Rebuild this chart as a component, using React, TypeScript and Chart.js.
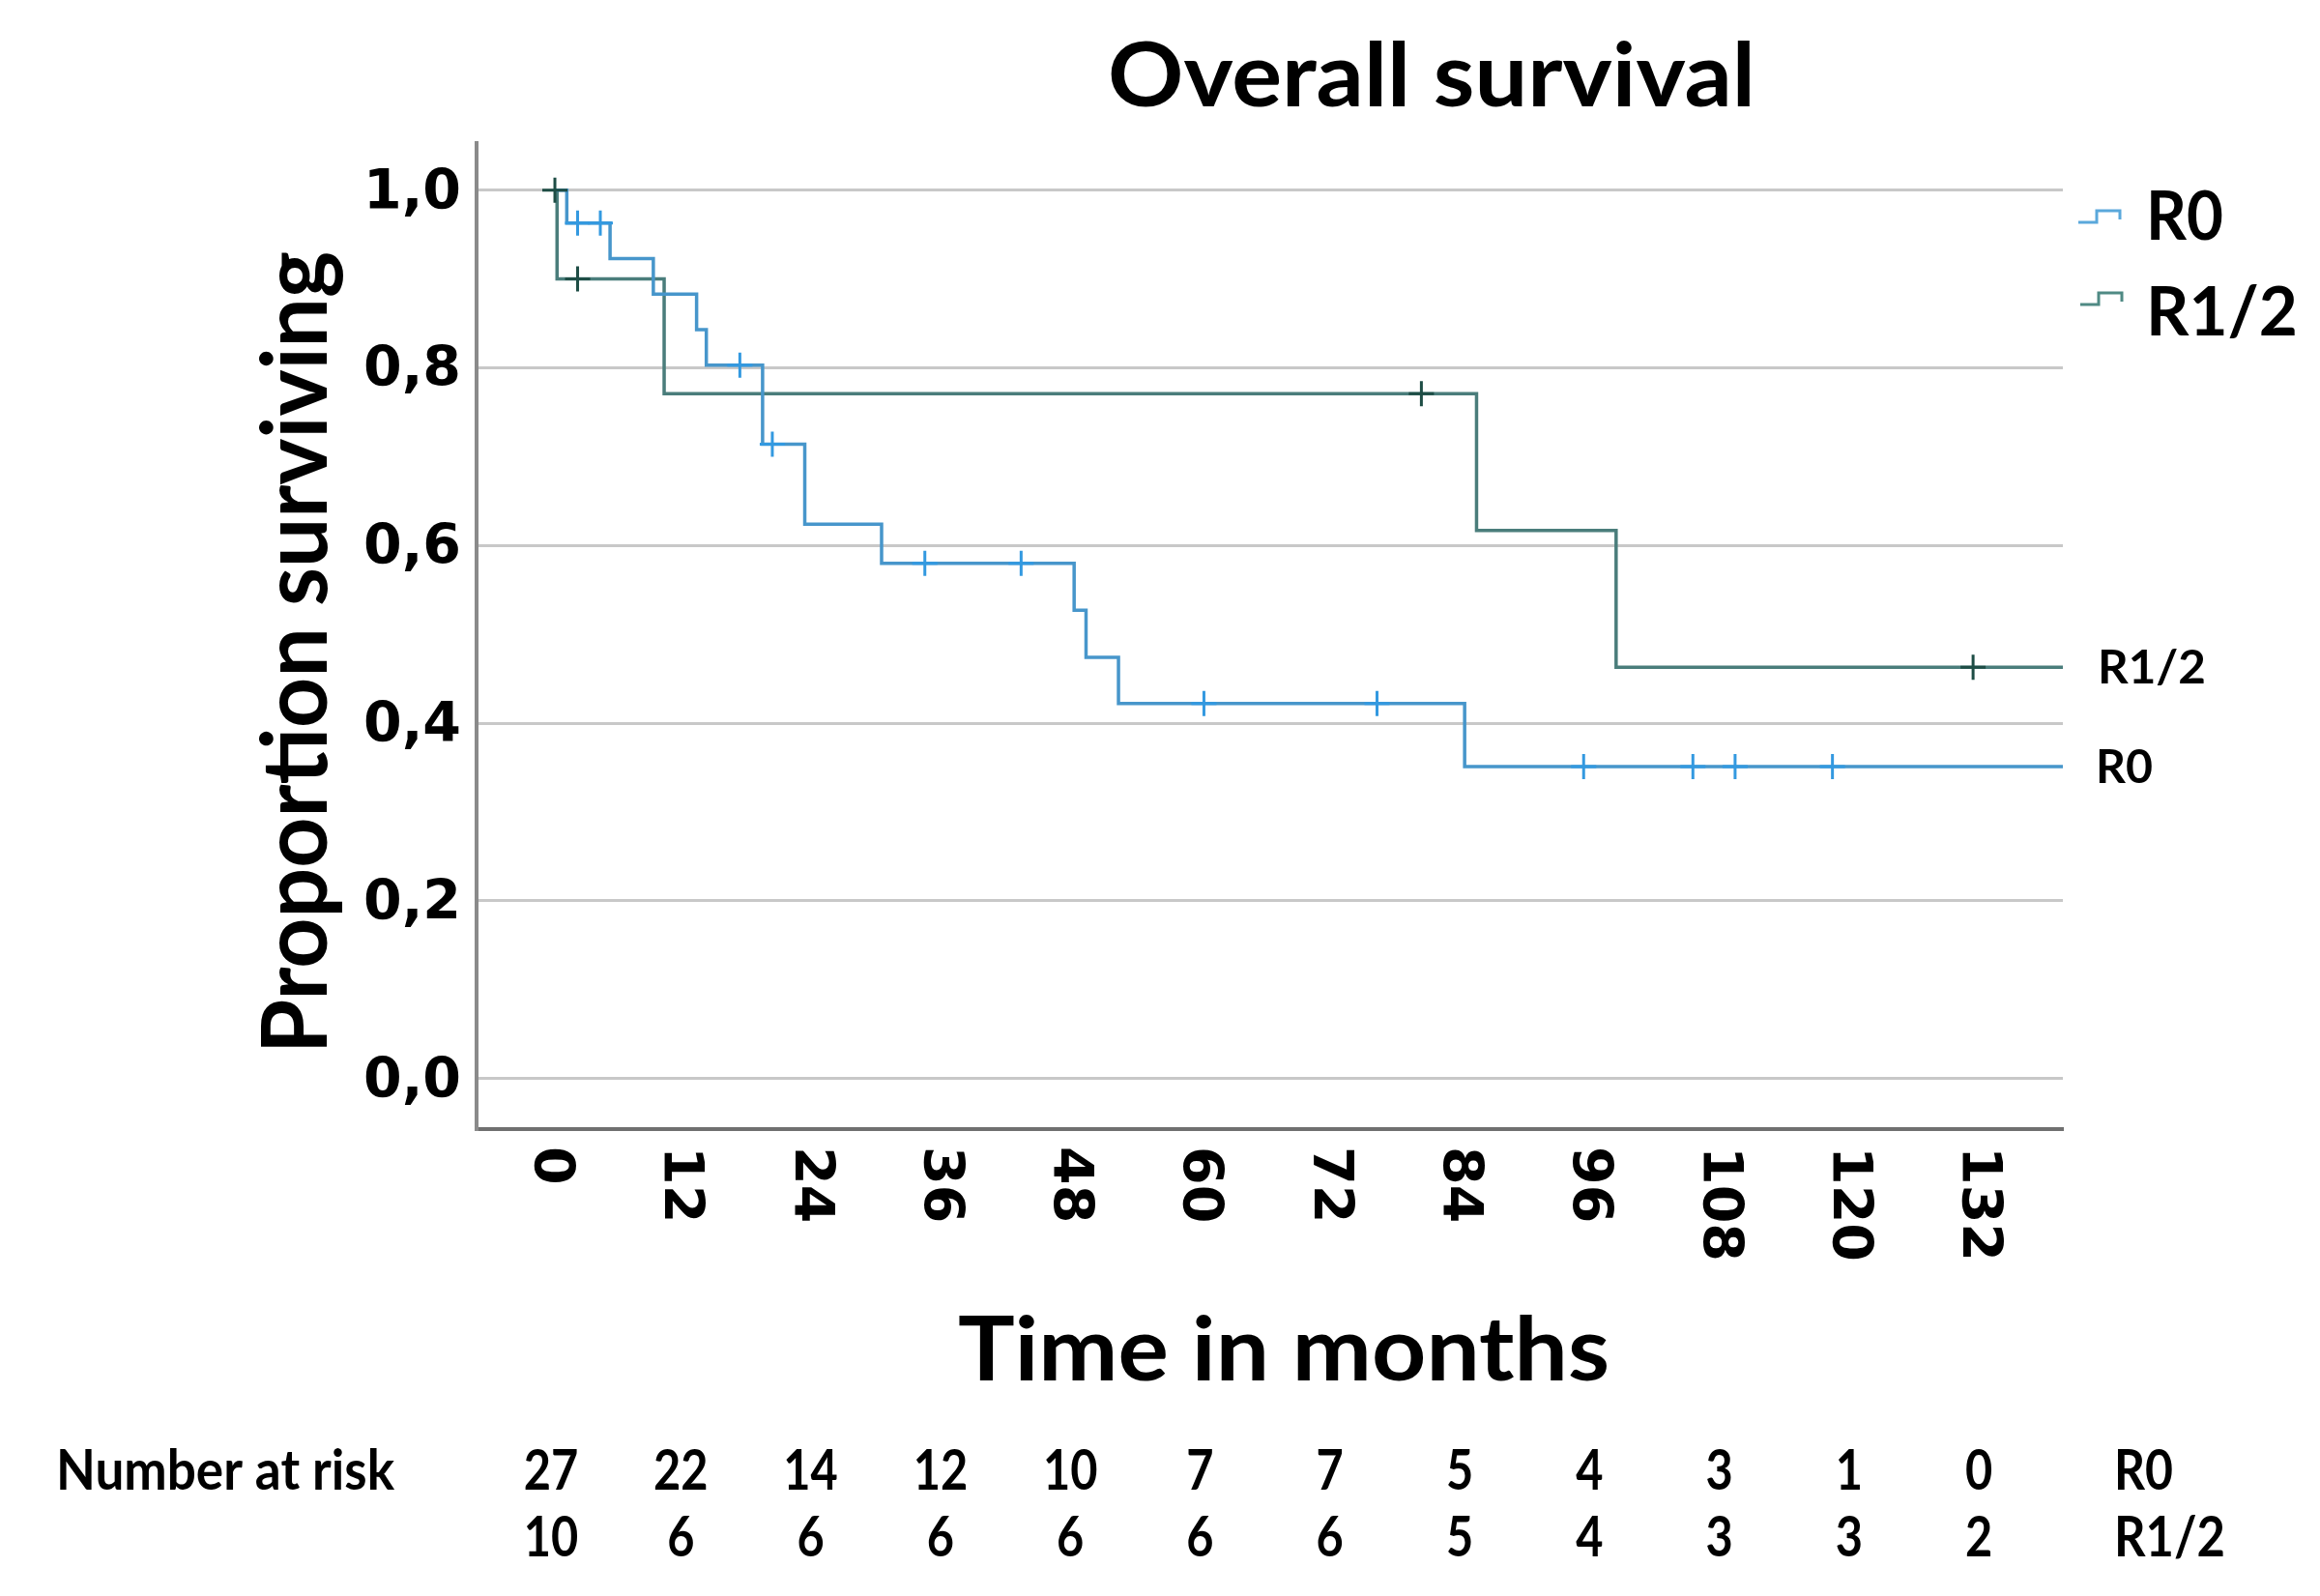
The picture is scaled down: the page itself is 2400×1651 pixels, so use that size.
import React, { useEffect, useRef } from 'react';
import { Chart, registerables } from 'chart.js';

Chart.register(...registerables);

// ---------------- data ----------------
const X_TICKS = [0, 12, 24, 36, 48, 60, 72, 84, 96, 108, 120, 132];
const Y_TICKS = [0, 0.2, 0.4, 0.6, 0.8, 1.0];
const Y_TICK_LABELS = ['0,0', '0,2', '0,4', '0,6', '0,8', '1,0'];

const R0_TIMES = [0, 1.1, 5.1, 9.1, 13.1, 14.0, 19.2, 23.1, 30.2, 48.0, 49.1, 52.1, 84.1, 139.4];
const R0_SURV = [1.0, 0.963, 0.923, 0.883, 0.843, 0.803, 0.714, 0.624, 0.58, 0.527, 0.474, 0.422, 0.351, 0.351];
const R0_CENSOR_TIMES = [2.1, 4.2, 17.1, 20.1, 34.2, 43.1, 60.0, 76.0, 95.1, 105.2, 109.1, 118.1];

const R12_TIMES = [0, 0.2, 10.1, 85.2, 98.1, 139.4];
const R12_SURV = [1.0, 0.9, 0.771, 0.617, 0.463, 0.463];
const R12_CENSOR_TIMES = [0, 2.1, 80.1, 131.1];

const RISK_R0 = [27, 22, 14, 12, 10, 7, 7, 5, 4, 3, 1, 0];
const RISK_R12 = [10, 6, 6, 6, 6, 6, 6, 5, 4, 3, 3, 2];

const SERIES_NAMES = ['R0', 'R1/2'];
const TITLE = 'Overall survival';
const X_TITLE = 'Time in months';
const Y_TITLE = 'Proportion surviving';
const RISK_TITLE = 'Number at risk';

// ---------------- styles ----------------
const R0_LINE = '#4796cb';
const R12_LINE = '#4a7d7b';
const R0_CENSOR = '#3399e0';
const R12_CENSOR = '#1e4d45';
const SANS = 'Lato, "Open Sans", sans-serif';
const TICKFONT = '"DejaVu Sans", Verdana, sans-serif';

function survivalAt(times: number[], surv: number[], t: number): number {
  let v = surv[0];
  for (let i = 0; i < times.length; i++) {
    if (times[i] <= t) v = surv[i];
  }
  return v;
}

function drawText(
  ctx: CanvasRenderingContext2D,
  text: string,
  x: number,
  y: number,
  font: string,
  align: CanvasTextAlign,
  targetW: number | null,
  rotation = 0,
  sxFixed = 1
) {
  ctx.save();
  ctx.font = font;
  ctx.fillStyle = '#000';
  const w = ctx.measureText(text).width;
  const sx = targetW ? targetW / w : sxFixed;
  ctx.translate(x, y);
  ctx.rotate(rotation);
  ctx.scale(sx, 1);
  ctx.textAlign = align;
  ctx.textBaseline = 'alphabetic';
  ctx.fillText(text, 0, 0);
  ctx.restore();
}

const axisLabelPlugin = {
  id: 'kmAxisLabels',
  afterDraw(chart: any) {
    const ctx: CanvasRenderingContext2D = chart.ctx;
    const xs = chart.scales.x;
    const ys = chart.scales.y;
    const area = chart.chartArea;

    // Title
    drawText(ctx, TITLE, 1481, 110, `bold 91px ${SANS}`, 'center', 670);

    // Y tick labels
    Y_TICKS.forEach((v, i) => {
      const py = ys.getPixelForValue(v);
      drawText(ctx, Y_TICK_LABELS[i], area.left - 16, py + 19, `bold 57px ${TICKFONT}`, 'right', null);
    });

    // X tick labels (rotated clockwise, glyphs centred on tick)
    X_TICKS.forEach((v) => {
      const px = xs.getPixelForValue(v);
      drawText(ctx, String(v), px - 21, area.bottom + 18, `bold 57px ${TICKFONT}`, 'left', null, Math.PI / 2);
    });
  },
};

const textPlugin = {
  id: 'kmText',
  afterDraw(chart: any) {
    const ctx: CanvasRenderingContext2D = chart.ctx;
    const xs = chart.scales.x;
    const ys = chart.scales.y;

    // Y axis title
    drawText(ctx, Y_TITLE, 338, 675, `bold 94px ${SANS}`, 'center', 830, -Math.PI / 2);

    // X axis title
    drawText(ctx, X_TITLE, 1328, 1428, `bold 91px ${SANS}`, 'center', 674);

    // Number at risk table
    const row1 = 1541;
    const row2 = 1610;
    drawText(ctx, RISK_TITLE, 58, row1, `bold 58px ${SANS}`, 'left', 350);
    X_TICKS.forEach((t, i) => {
      const px = xs.getPixelForValue(t) - 4;
      drawText(ctx, String(RISK_R0[i]), px, row1, `bold 58px ${SANS}`, 'center', null, 0, 0.84);
      drawText(ctx, String(RISK_R12[i]), px, row2, `bold 58px ${SANS}`, 'center', null, 0, 0.84);
    });
    drawText(ctx, SERIES_NAMES[0], 2187, row1, `bold 58px ${SANS}`, 'left', 61);
    drawText(ctx, SERIES_NAMES[1], 2187, row2, `bold 58px ${SANS}`, 'left', 115);

    // Legend
    const drawIcon = (x: number, yLow: number, yHigh: number, color: string) => {
      ctx.save();
      ctx.strokeStyle = color;
      ctx.lineWidth = 3;
      ctx.beginPath();
      ctx.moveTo(x, yLow);
      ctx.lineTo(x + 19, yLow);
      ctx.lineTo(x + 19, yHigh);
      ctx.lineTo(x + 43, yHigh);
      ctx.lineTo(x + 43, yHigh + 9);
      ctx.stroke();
      ctx.restore();
    };
    drawIcon(2150, 230, 218, '#5aa8db');
    drawIcon(2152, 315, 303, '#4f8a84');
    drawText(ctx, SERIES_NAMES[0], 2220, 248, `bold 70px ${SANS}`, 'left', 80);
    drawText(ctx, SERIES_NAMES[1], 2220, 347, `bold 70px ${SANS}`, 'left', 157);

    // End-of-curve labels
    const yR12 = ys.getPixelForValue(R12_SURV[R12_SURV.length - 1]);
    const yR0 = ys.getPixelForValue(R0_SURV[R0_SURV.length - 1]);
    drawText(ctx, SERIES_NAMES[1], 2170, yR12 + 17, `bold 48px ${SANS}`, 'left', 112);
    drawText(ctx, SERIES_NAMES[0], 2168, yR0 + 17, `bold 48px ${SANS}`, 'left', 59);
  },
};

export default function App() {
  const canvasRef = useRef<HTMLCanvasElement | null>(null);

  useEffect(() => {
    document.body.style.margin = '0';
    const canvas = canvasRef.current;
    if (!canvas) return;

    const toPoints = (times: number[], surv: number[]) =>
      times.map((t, i) => ({ x: t, y: surv[i] }));
    const censorPoints = (ct: number[], times: number[], surv: number[]) =>
      ct.map((t) => ({ x: t, y: survivalAt(times, surv, t) }));

    const chart = new Chart(canvas, {
      type: 'line',
      data: {
        datasets: [
          {
            label: SERIES_NAMES[1],
            data: toPoints(R12_TIMES, R12_SURV),
            borderColor: R12_LINE,
            borderWidth: 3.5,
            stepped: 'before',
            pointRadius: 0,
            fill: false,
            order: 2,
          },
          {
            label: SERIES_NAMES[0],
            data: toPoints(R0_TIMES, R0_SURV),
            borderColor: R0_LINE,
            borderWidth: 3.5,
            stepped: 'before',
            pointRadius: 0,
            fill: false,
            order: 1,
          },
          {
            type: 'scatter',
            label: 'R0 censored',
            data: censorPoints(R0_CENSOR_TIMES, R0_TIMES, R0_SURV),
            pointStyle: 'cross',
            pointRadius: 13,
            pointBorderWidth: 3,
            borderColor: R0_CENSOR,
            backgroundColor: R0_CENSOR,
            showLine: false,
            order: 0,
          } as any,
          {
            type: 'scatter',
            label: 'R1/2 censored',
            data: censorPoints(R12_CENSOR_TIMES, R12_TIMES, R12_SURV),
            pointStyle: 'cross',
            pointRadius: 13,
            pointBorderWidth: 3,
            borderColor: R12_CENSOR,
            backgroundColor: R12_CENSOR,
            showLine: false,
            order: 0,
          } as any,
        ],
      },
      options: {
        animation: false,
        responsive: false,
        devicePixelRatio: 1,
        layout: { padding: { left: 493, right: 266, top: 148, bottom: 483 } },
        plugins: {
          legend: { display: false },
          tooltip: { enabled: false },
          title: { display: false },
        },
        scales: {
          x: {
            type: 'linear',
            min: -7.24,
            max: 139.4,
            ticks: { display: false },
            grid: { display: false, drawTicks: false },
            border: { display: true, color: '#707070', width: 4 },
          },
          y: {
            type: 'linear',
            min: -0.057,
            max: 1.053,
            afterBuildTicks: (scale: any) => {
              scale.ticks = Y_TICKS.map((v) => ({ value: v }));
            },
            ticks: { display: false },
            grid: { color: '#c8c8c8', lineWidth: 3, drawTicks: false },
            border: { display: true, color: '#8a8a8a', width: 4 },
          },
        },
      },
      plugins: [axisLabelPlugin, textPlugin],
    } as any);

    return () => chart.destroy();
  }, []);

  return (
    <div style={{ width: 2400, height: 1651, background: '#fff' }}>
      <canvas ref={canvasRef} width={2400} height={1651} style={{ display: 'block', width: 2400, height: 1651 }} />
    </div>
  );
}
